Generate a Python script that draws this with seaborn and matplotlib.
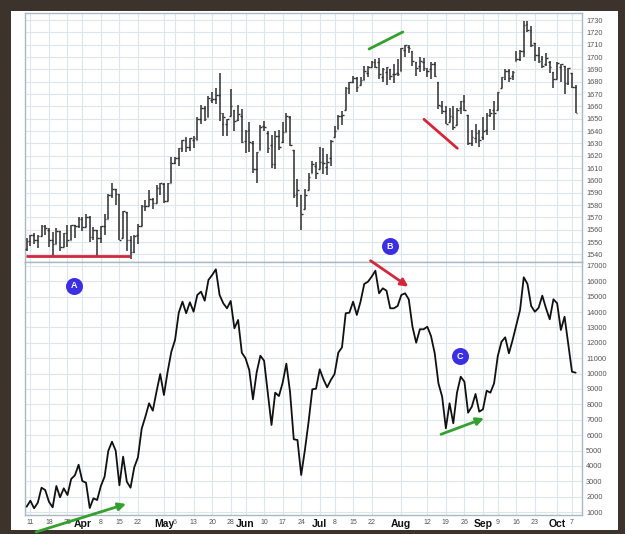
import seaborn as sns
import pandas as pd
import matplotlib.pyplot as plt
from matplotlib.patches import Rectangle

# daily OHLC, S&P 500, Mar 8 - Oct 8
opens = [1544, 1551, 1556, 1552, 1555, 1563, 1560, 1552, 1548, 1559,
         1546, 1557, 1552, 1564, 1563, 1569, 1562, 1570, 1554, 1560,
         1553, 1563, 1569, 1588, 1593, 1589, 1553, 1574, 1552, 1542,
         1556, 1563, 1579, 1579, 1585, 1582, 1594, 1597, 1583, 1598,
         1614, 1618, 1626, 1633, 1627, 1633, 1633, 1650, 1659, 1651,
         1665, 1666, 1669, 1646, 1646, 1652, 1657, 1649, 1652, 1632,
         1641, 1630, 1609, 1625, 1644, 1638, 1629, 1613, 1636, 1631,
         1639, 1651, 1625, 1589, 1588, 1577, 1592, 1606, 1612, 1609,
         1614, 1611, 1618, 1635, 1642, 1652, 1657, 1675, 1680, 1683,
         1677, 1681, 1687, 1692, 1696, 1696, 1684, 1688, 1690, 1686,
         1687, 1689, 1706, 1708, 1705, 1696, 1693, 1696, 1689, 1690,
         1694, 1680, 1660, 1656, 1647, 1651, 1645, 1659, 1664, 1653,
         1630, 1634, 1639, 1635, 1641, 1653, 1657, 1657, 1675, 1682,
         1689, 1685, 1697, 1698, 1705, 1727, 1722, 1711, 1702, 1698,
         1694, 1696, 1688, 1682, 1692, 1693, 1679, 1687, 1676]
highs = [1553, 1556, 1557, 1556, 1564, 1564, 1561, 1558, 1561, 1559,
         1557, 1564, 1564, 1564, 1570, 1570, 1573, 1571, 1562, 1560,
         1563, 1573, 1589, 1598, 1593, 1589, 1575, 1574, 1555, 1556,
         1565, 1580, 1584, 1592, 1586, 1596, 1598, 1598, 1598, 1619,
         1619, 1626, 1633, 1635, 1634, 1636, 1651, 1661, 1660, 1668,
         1672, 1675, 1687, 1655, 1650, 1674, 1657, 1661, 1658, 1641,
         1647, 1632, 1623, 1645, 1648, 1640, 1637, 1640, 1641, 1647,
         1655, 1652, 1625, 1601, 1588, 1593, 1606, 1616, 1615, 1627,
         1626, 1621, 1633, 1644, 1653, 1656, 1676, 1680, 1685, 1684,
         1684, 1693, 1693, 1697, 1698, 1699, 1691, 1692, 1690, 1694,
         1698, 1707, 1710, 1710, 1705, 1696, 1700, 1699, 1691, 1696,
         1696, 1680, 1664, 1660, 1659, 1660, 1659, 1664, 1669, 1653,
         1641, 1646, 1641, 1651, 1655, 1658, 1664, 1672, 1684, 1690,
         1690, 1689, 1705, 1706, 1729, 1729, 1725, 1711, 1708, 1701,
         1703, 1697, 1688, 1696, 1694, 1693, 1691, 1687, 1677]
lows = [1543, 1547, 1548, 1545, 1555, 1556, 1546, 1538, 1548, 1543,
        1546, 1546, 1552, 1553, 1561, 1559, 1562, 1550, 1552, 1539,
        1549, 1556, 1569, 1586, 1580, 1552, 1553, 1543, 1536, 1541,
        1548, 1563, 1575, 1579, 1577, 1582, 1588, 1582, 1583, 1598,
        1613, 1612, 1623, 1623, 1624, 1626, 1633, 1646, 1648, 1651,
        1663, 1662, 1648, 1636, 1636, 1652, 1640, 1648, 1630, 1622,
        1623, 1606, 1598, 1625, 1640, 1622, 1610, 1609, 1625, 1630,
        1639, 1628, 1586, 1578, 1560, 1577, 1592, 1606, 1601, 1609,
        1605, 1604, 1612, 1635, 1642, 1645, 1657, 1670, 1679, 1672,
        1677, 1681, 1684, 1692, 1691, 1682, 1680, 1677, 1681, 1679,
        1685, 1689, 1700, 1703, 1693, 1685, 1688, 1689, 1684, 1682,
        1684, 1658, 1654, 1646, 1647, 1641, 1645, 1654, 1656, 1629,
        1628, 1630, 1627, 1633, 1637, 1651, 1641, 1657, 1675, 1681,
        1680, 1681, 1697, 1697, 1700, 1720, 1708, 1697, 1695, 1691,
        1693, 1687, 1675, 1682, 1680, 1670, 1677, 1675, 1655]
closes = [1551, 1556, 1552, 1555, 1563, 1561, 1552, 1548, 1559, 1546,
          1557, 1552, 1564, 1563, 1569, 1562, 1570, 1554, 1560, 1553,
          1563, 1569, 1588, 1593, 1589, 1552, 1575, 1552, 1542, 1555,
          1563, 1579, 1579, 1585, 1582, 1594, 1598, 1583, 1598, 1614,
          1618, 1626, 1633, 1627, 1634, 1634, 1650, 1659, 1650, 1667,
          1666, 1669, 1655, 1651, 1650, 1660, 1648, 1654, 1631, 1640,
          1631, 1609, 1623, 1643, 1643, 1626, 1613, 1636, 1627, 1639,
          1652, 1629, 1588, 1592, 1573, 1588, 1603, 1613, 1606, 1615,
          1614, 1615, 1632, 1640, 1652, 1653, 1675, 1680, 1683, 1676,
          1681, 1689, 1692, 1696, 1692, 1686, 1690, 1692, 1685, 1686,
          1686, 1707, 1710, 1707, 1697, 1691, 1697, 1691, 1689, 1694,
          1685, 1661, 1656, 1646, 1652, 1643, 1657, 1664, 1657, 1630,
          1635, 1638, 1633, 1640, 1653, 1655, 1655, 1672, 1684, 1689,
          1683, 1688, 1698, 1705, 1726, 1722, 1710, 1702, 1697, 1693,
          1699, 1692, 1682, 1695, 1694, 1679, 1691, 1676, 1655]

# lower panel indicator
breadth = [1345, 1735, 1240, 1605, 2580, 2430, 1670, 1305, 2690, 1955,
           2540, 2105, 3150, 3385, 4075, 3015, 2905, 1260, 1890, 1780,
           2690, 3295, 4970, 5575, 4985, 2735, 4600, 2970, 2580, 3905,
           4555, 6415, 7200, 8070, 7590, 8825, 9975, 8610, 10125, 11425,
           12190, 13965, 14680, 13925, 14640, 14025, 15115, 15330, 14745, 16090,
           16415, 16785, 15115, 14575, 14250, 14725, 12950, 13490, 11360, 10995,
           10235, 8330, 10085, 11165, 10840, 8720, 6660, 8760, 8545, 9400,
           10650, 8800, 5730, 5685, 3405, 5030, 6875, 8980, 9020, 10280,
           9630, 9110, 9585, 9975, 11360, 11710, 13925, 13965, 14680, 13815,
           14680, 15830, 15980, 16305, 16695, 15225, 15550, 15395, 14250, 14250,
           14400, 15115, 15225, 14835, 13050, 12010, 12885, 12885, 13050, 12445,
           11320, 9370, 8500, 6445, 8070, 6770, 8760, 9800, 9475, 7460,
           7850, 8675, 7525, 7680, 8890, 8760, 9370, 11145, 12075, 12360,
           11320, 12190, 13165, 14140, 16265, 15830, 14400, 14025, 14280, 15070,
           14250, 13535, 14835, 14575, 12840, 13700, 11925, 10125, 10060]

holidays = ['2013-03-29', '2013-05-27', '2013-07-04', '2013-09-02']
tick_dates = ['2013-03-11', '2013-03-18', '2013-03-25', '2013-04-01', '2013-04-08',
              '2013-04-15', '2013-04-22', '2013-05-01', '2013-05-06', '2013-05-13',
              '2013-05-20', '2013-05-28', '2013-06-03', '2013-06-10', '2013-06-17',
              '2013-06-24', '2013-07-01', '2013-07-08', '2013-07-15', '2013-07-22',
              '2013-08-01', '2013-08-12', '2013-08-19', '2013-08-26', '2013-09-03',
              '2013-09-09', '2013-09-16', '2013-09-23', '2013-10-01', '2013-10-07']
tick_labels = ['11', '18', '25', 'Apr', '8', '15', '22', 'May', '6', '13',
               '20', '28', 'Jun', '10', '17', '24', 'Jul', '8', '15', '22',
               'Aug', '12', '19', '26', 'Sep', '9', '16', '23', 'Oct', '7']
months = ['Apr', 'May', 'Jun', 'Jul', 'Aug', 'Sep', 'Oct']

days = pd.bdate_range('2013-03-08', '2013-10-08')
days = days[~days.isin(pd.to_datetime(holidays))]

df = pd.DataFrame({'date': days, 'open': opens, 'high': highs, 'low': lows,
                   'close': closes, 'breadth': breadth})
df['i'] = range(len(df))
pos = {d: i for i, d in enumerate(df['date'])}
tick_pos = [pos[pd.Timestamp(d)] for d in tick_dates]

sns.set_theme(style='white')
plt.rcParams['font.family'] = ['Liberation Sans', 'DejaVu Sans']

W, H = 625, 534
fig = plt.figure(figsize=(W / 100, H / 100), dpi=100, facecolor='#3b332c')
fig.patches.append(Rectangle((11 / W, 4 / H), 607 / W, 519 / H, transform=fig.transFigure,
                             facecolor='white', edgecolor='none', zorder=-10))

ax1 = fig.add_axes([25 / W, 272 / H, 557 / W, 249 / H])
ax2 = fig.add_axes([25 / W, 19 / H, 557 / W, 253 / H])

grid_c = '#dde6ee'
spine_c = '#a9b8c2'
bar_c = '#2e2e2e'

# price bars
ax1.vlines(df['i'], df['low'], df['high'], color=bar_c, lw=1.1, zorder=3)
ax1.hlines(df['open'], df['i'] - 0.45, df['i'], color=bar_c, lw=1.0, zorder=3)
ax1.hlines(df['close'], df['i'], df['i'] + 0.45, color=bar_c, lw=1.0, zorder=3)

# indicator line
sns.lineplot(data=df, x='i', y='breadth', ax=ax2, color='#111111', lw=1.3, zorder=3)

for ax in (ax1, ax2):
    ax.set_xlim(-0.45, 149.7)
    ax.set_xticks(tick_pos)
    ax.grid(True, color=grid_c, lw=0.8)
    ax.set_axisbelow(True)
    ax.yaxis.tick_right()
    ax.tick_params(axis='y', length=0, pad=3, labelsize=5.3, labelcolor='#555555')
    ax.tick_params(axis='x', length=0)
    ax.set_xlabel('')
    ax.set_ylabel('')
    for s in ax.spines.values():
        s.set_visible(True)
        s.set_color(spine_c)
        s.set_linewidth(1.0)

ax1.set_ylim(1533.8, 1735.7)
ax1.set_yticks(range(1540, 1731, 10))
ax1.set_xticklabels([])

ax2.set_ylim(805, 17260)
ax2.set_yticks(range(1000, 17001, 1000))
ax2.set_xticklabels(tick_labels)
ax2.tick_params(axis='x', pad=3, labelsize=5, labelcolor='#555555')
for lab in ax2.get_xticklabels():
    if lab.get_text() in months:
        lab.set_fontweight('bold')
        lab.set_fontsize(7.5)
        lab.set_color('#111111')

red = '#d2283a'
green = '#35a02f'
blue = '#3b2fe3'

# price annotations
ax1.plot([-0.2, 27.8], [1538.6, 1538.6], color=red, lw=2, solid_capstyle='butt', zorder=4)
ax1.plot([92.3, 101.4], [1706.5, 1720.3], color=green, lw=2, zorder=4)
ax1.plot([107.1, 116.1], [1649.5, 1626], color=red, lw=2, zorder=4)

# indicator annotations
arrow = dict(arrowstyle='-|>', lw=2, mutation_scale=11, shrinkA=0, shrinkB=0)
ax2.annotate('', xy=(26.8, 1520), xytext=(2.5, -300), annotation_clip=False,
             arrowprops=dict(arrow, color=green))
ax2.annotate('', xy=(102.9, 15654), xytext=(92.7, 17345), annotation_clip=False,
             arrowprops=dict(arrow, color=red))
ax2.annotate('', xy=(123.3, 7094), xytext=(111.7, 6054), annotation_clip=False,
             arrowprops=dict(arrow, color=green))

for lbl, x, y in [('A', 12.7, 15700), ('B', 97.9, 18300), ('C', 116.8, 11146)]:
    ax2.scatter([x], [y], s=150, color=blue, clip_on=False, zorder=6, linewidths=0)
    ax2.text(x, y, lbl, color='white', fontsize=6.5, fontweight='bold',
             ha='center', va='center', zorder=7, clip_on=False)

fig.savefig('out.png', dpi=100, facecolor=fig.get_facecolor())
